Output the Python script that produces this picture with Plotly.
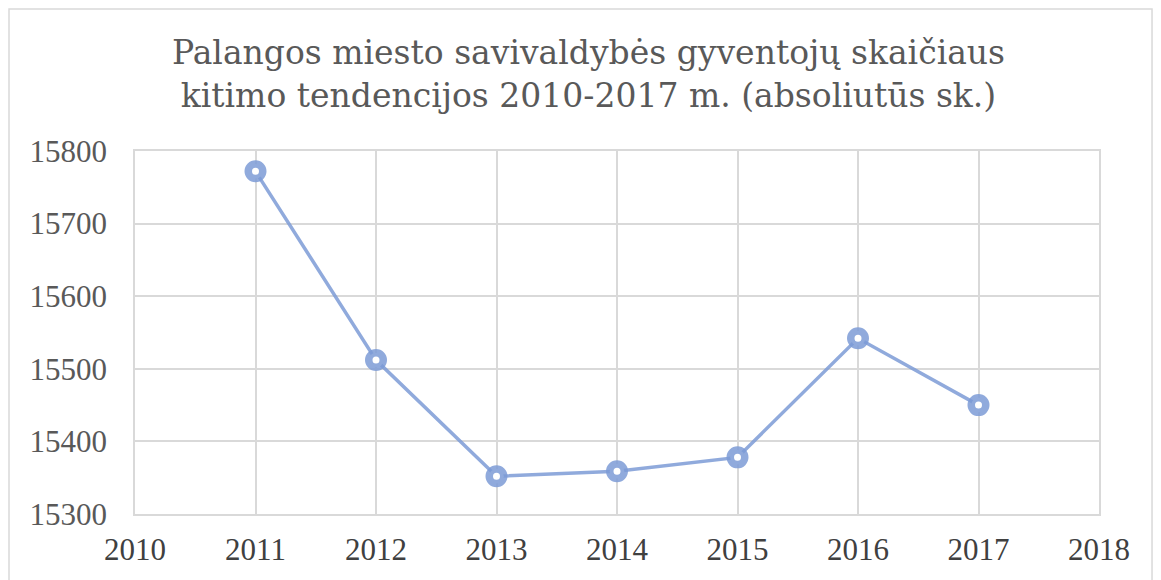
import plotly.graph_objects as go

years = [2011, 2012, 2013, 2014, 2015, 2016, 2017]
population = [15772, 15512, 15352, 15359, 15378, 15542, 15450]
x_ticks = [2010, 2011, 2012, 2013, 2014, 2015, 2016, 2017, 2018]
y_ticks = [15300, 15400, 15500, 15600, 15700, 15800]

title_text = "Palangos miesto savivaldybės gyventojų skaičiaus<br>kitimo tendencijos 2010-2017 m. (absoliutūs sk.)"

color = "rgba(124,155,214,0.85)"
font_family = "Liberation Serif, DejaVu Serif, serif"

fig = go.Figure()
fig.add_trace(go.Scatter(
    x=years, y=population, mode="lines+markers",
    line=dict(color=color, width=3.5),
    marker=dict(symbol="circle", size=14.5, color="white", line=dict(color=color, width=7.5)),
    showlegend=False,
))

# plot area: x 135..1099, y 151..514 in page pixels (page has 8px body offset)
fig.update_layout(
    width=1161, height=580,
    paper_bgcolor="white", plot_bgcolor="white",
    margin=dict(l=127, r=70, t=143, b=74),
    title=dict(text=title_text, x=0.5, xanchor="center", y=0.903, yanchor="top",
               font=dict(family="DejaVu Serif, serif", size=33, color="#595959")),
    font=dict(family=font_family, color="#595959"),
    xaxis=dict(range=[2010, 2018], tickvals=x_ticks, ticktext=[str(v) for v in x_ticks],
               showgrid=True, gridcolor="#d9d9d9", gridwidth=1.5,
               showline=True, linecolor="#d9d9d9", linewidth=1.5, mirror=True,
               zeroline=False, ticks="", tickfont=dict(size=31, color="#404040"),
               ticklabelstandoff=7),
    yaxis=dict(range=[15300, 15800], tickvals=y_ticks, ticktext=[str(v) for v in y_ticks],
               showgrid=True, gridcolor="#d9d9d9", gridwidth=1.5,
               showline=True, linecolor="#d9d9d9", linewidth=1.5, mirror=True,
               zeroline=False, ticks="", tickfont=dict(size=31, color="#595959"),
               ticklabelstandoff=20),
    shapes=[dict(type="rect", xref="paper", yref="paper",
                 x0=-0.1307, x1=1.055, y0=-0.3, y1=1.391,
                 line=dict(color="#d9d9d9", width=1.5), fillcolor="rgba(0,0,0,0)", layer="below")],
)

fig.write_html("out.html")
